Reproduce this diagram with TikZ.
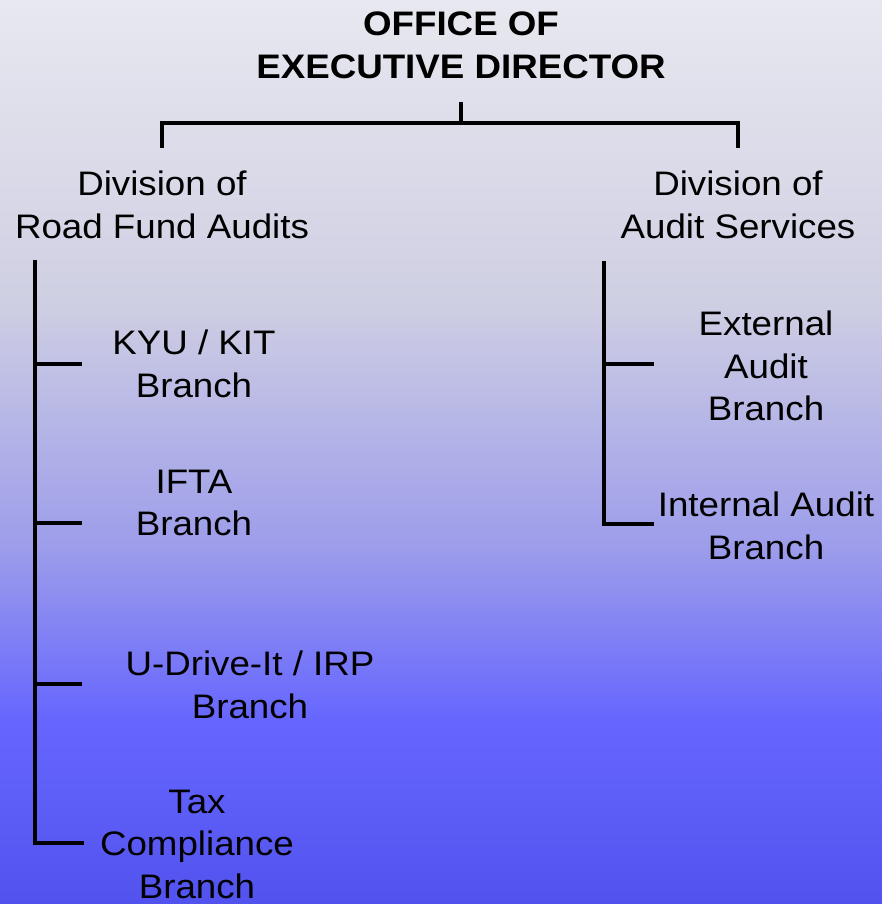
\documentclass[tikz,border=0pt]{standalone}
\usepackage{fontspec}
\setmainfont{Liberation Sans}[FakeStretch=1.08]
\usetikzlibrary{positioning}

\definecolor{bgA}{RGB}{232,232,240}
\definecolor{bgB}{RGB}{207,207,227}
\definecolor{bgC}{RGB}{156,156,235}
\definecolor{bgD}{RGB}{102,102,255}
\definecolor{bgE}{RGB}{82,82,238}
\pgfdeclareverticalshading{chartbg}{100bp}{color(0bp)=(bgE); color(25bp)=(bgE); color(35.2bp)=(bgD); color(44.6bp)=(bgC); color(58.4bp)=(bgB); color(75bp)=(bgA); color(100bp)=(bgA)}

\tikzset{
  org/.style={line width=4.5pt, line join=miter},
  unit/.style={align=center, inner sep=0pt, font=\fontsize{34}{42.5}\selectfont},
  head/.style={unit, font=\fontsize{34}{43}\selectfont\bfseries}
}

\begin{document}
\begin{tikzpicture}[x=1pt, y=-1pt]
    \shade[shading=chartbg] (0,0) rectangle (882,904);
    \useasboundingbox (0,0) rectangle (882,904);

    %\node[head] (office) at (461,40) {OFFICE OF};
    \node[head] (office) at (461,45.5) {OFFICE OF\\EXECUTIVE DIRECTOR};
    \node[unit] (roadfund) at (162,205) {Division of\\Road Fund Audits};
    \node[unit] (auditsvc) at (738,205) {Division of\\Audit Services};

    \node[unit] (kyu) at (194,364) {KYU / KIT\\Branch};
    \node[unit] (ifta) at (194,503) {IFTA\\Branch};
    \node[unit] (udrive) at (250,685) {U-Drive-It / IRP\\Branch};
    \node[unit] (tax) at (197,844) {Tax\\Compliance\\Branch};

    \node[unit] (external) at (766,366) {External\\Audit\\Branch};
    \node[unit] (internal) at (766,526) {Internal Audit\\Branch};

    \coordinate (stem) at (461,102);
    \coordinate (bar) at (461,123);
    \coordinate (legL) at (162,148);
    \coordinate (legR) at (738,148);
    \coordinate (rfTop) at (35,260);
    \coordinate (asTop) at (604,261);
    \coordinate (kyuTick) at (82,364);
    \coordinate (iftaTick) at (82,523);
    \coordinate (udriveTick) at (82,684);
    \coordinate (taxTick) at (84,843);
    \coordinate (extTick) at (654,364);
    \coordinate (intTick) at (654,524);

    \draw[org] (stem) -- (bar);
    \draw[org] (legL) -- (legL |- bar) -- (legR |- bar) -- (legR);

    \draw[org] (rfTop) -- (rfTop |- taxTick) -- (taxTick);
    \foreach \t in {kyuTick, iftaTick, udriveTick}
        \draw[org] (rfTop |- \t) -- (\t);

    \draw[org] (asTop) -- (asTop |- intTick) -- (intTick);
    \draw[org] (asTop |- extTick) -- (extTick);
\end{tikzpicture}
\end{document}
